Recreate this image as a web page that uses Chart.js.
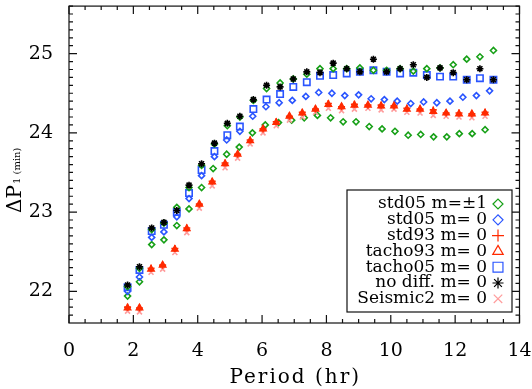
<!DOCTYPE html>
<html>
<head>
<meta charset="utf-8">
<script src="https://cdn.jsdelivr.net/npm/chart.js@4.4.0/dist/chart.umd.min.js"></script>
<style>
html,body{margin:0;padding:0;background:#fff;}
#wrap{width:532px;height:389px;}
</style>
</head>
<body>
<div id="wrap"><canvas id="c" width="532" height="389"></canvas></div>
<script>
const xTicks = [0,2,4,6,8,10,12,14];
const yTicks = [22,23,24,25];

// periods (hr), one list per column set
const periods = [1.82,2.19,2.57,2.95,3.35,3.73,4.12,4.52,4.92,5.31,5.73,6.14,6.56,6.97,7.39,7.80,8.21,8.63,9.04,9.46,9.87,10.29,10.70,11.12,11.53,11.94,12.36,12.77,13.19];
const periodsStd05 = [1.82,2.19,2.57,2.95,3.35,3.73,4.12,4.52,4.90,5.31,5.71,6.12,6.53,6.94,7.36,7.76,8.17,8.57,9.00,9.39,9.80,10.20,10.62,11.02,11.43,11.84,12.24,12.66,13.07];
const periodsLower = [1.82,2.19,2.57,2.95,3.35,3.73,4.12,4.48,4.90,5.29,5.70,6.10,6.51,6.92,7.31,7.72,8.13,8.52,8.92,9.33,9.73,10.13,10.54,10.93,11.33,11.74,12.13,12.53,12.93];
const periods93 = [1.82,2.19,2.55,2.91,3.29,3.66,4.05,4.45,4.85,5.24,5.63,6.03,6.44,6.85,7.25,7.66,8.06,8.47,8.87,9.29,9.70,10.10,10.50,10.91,11.32,11.72,12.12,12.52,12.93];

// Delta P1 (min)
const std05UpperBranch = [22.06,22.29,22.78,22.86,23.06,23.31,23.59,23.86,24.09,24.20,24.41,24.56,24.63,24.68,24.74,24.81,24.81,24.81,24.82,24.79,24.79,24.81,24.78,24.81,24.82,24.86,24.93,24.96,25.04];
const std05LowerBranch = [21.94,22.12,22.59,22.65,22.83,23.04,23.31,23.55,23.73,23.82,24.00,24.10,24.13,24.16,24.19,24.22,24.19,24.14,24.14,24.08,24.05,24.02,23.97,23.98,23.95,23.95,23.99,23.99,24.04];
const std05m0 = [22.00,22.18,22.68,22.75,22.94,23.17,23.46,23.70,23.91,24.02,24.21,24.33,24.38,24.41,24.46,24.51,24.50,24.47,24.48,24.43,24.42,24.40,24.37,24.39,24.38,24.40,24.45,24.47,24.53];
const std93 = [21.80,21.79,22.29,22.33,22.54,22.80,23.10,23.39,23.62,23.73,23.91,24.05,24.14,24.21,24.26,24.30,24.37,24.33,24.36,24.35,24.35,24.34,24.31,24.30,24.29,24.25,24.25,24.24,24.26];
const tacho93 = [21.79,21.79,22.28,22.33,22.53,22.79,23.10,23.38,23.61,23.73,23.90,24.05,24.13,24.21,24.25,24.30,24.36,24.33,24.35,24.35,24.34,24.34,24.30,24.30,24.27,24.25,24.24,24.24,24.25];
const tacho05 = [22.05,22.27,22.76,22.84,23.00,23.24,23.53,23.77,23.97,24.08,24.30,24.42,24.49,24.58,24.64,24.72,24.73,24.75,24.77,24.79,24.77,24.75,24.76,24.73,24.71,24.71,24.67,24.69,24.67];
const noDiff = [22.08,22.31,22.80,22.87,23.02,23.34,23.61,23.87,24.12,24.21,24.42,24.60,24.58,24.68,24.77,24.76,24.88,24.81,24.77,24.93,24.77,24.81,24.86,24.70,24.82,24.76,24.67,24.81,24.67];
const seismic2 = [21.75,21.74,22.24,22.28,22.49,22.74,23.05,23.33,23.56,23.68,23.86,24.00,24.09,24.16,24.20,24.26,24.31,24.28,24.30,24.31,24.29,24.30,24.26,24.25,24.22,24.21,24.20,24.19,24.21];

const GREEN = '#17a017', BLUE = '#2a55ff', RED = '#ff2a00', PINK = '#ff9c9c';
const FONT = "'DejaVu Serif', serif";

function pts(xs, ys){ return xs.map((p,i)=>({x:p, y:ys[i]})); }

const legendItems = [
    {label:'std05 m=\u00b11', style:'rectRot', color:GREEN, r:5},
    {label:'std05 m= 0', style:'rectRot', color:BLUE, r:5},
    {label:'std93 m= 0', style:'cross', color:RED, r:6},
    {label:'tacho93 m= 0', style:'triangle', color:RED, r:6},
    {label:'tacho05 m= 0', style:'rect', color:BLUE, r:7},
    {label:'no diff. m= 0', style:'star', color:'#000', r:5.5},
    {label:'Seismic2 m= 0', style:'crossRot', color:PINK, r:6}
];

const frame = {
    id:'frame',
    afterDraw(chart){
        const {ctx, chartArea:a, scales:{x, y}} = chart;
        ctx.save();
        ctx.strokeStyle = '#111';
        ctx.lineWidth = 1.2;
        ctx.strokeRect(a.left, a.top, a.right-a.left, a.bottom-a.top);
        ctx.beginPath();
        // minor ticks every 0.5 hr, major every 2
        for(let i=0;i<=28;i++){
            const px = x.getPixelForValue(i*0.5);
            const len = i%4===0 ? 8 : 4;
            ctx.moveTo(px, a.bottom); ctx.lineTo(px, a.bottom-len);
            ctx.moveTo(px, a.top); ctx.lineTo(px, a.top+len);
        }
        // minor ticks every 0.1 min, major every 1
        for(let i=217;i<=256;i++){
            const py = y.getPixelForValue(i/10);
            const len = i%10===0 ? 8 : 4;
            ctx.moveTo(a.left, py); ctx.lineTo(a.left+len, py);
            ctx.moveTo(a.right, py); ctx.lineTo(a.right-len, py);
        }
        ctx.stroke();

        // y title: Delta P with subscript
        ctx.fillStyle = '#000';
        ctx.save();
        ctx.translate(21, 213);
        ctx.rotate(-Math.PI/2);
        ctx.font = "20px " + FONT;
        ctx.textAlign = 'left';
        ctx.textBaseline = 'alphabetic';
        ctx.fillText('\u0394P', 0, 0);
        ctx.font = "10px " + FONT;
        ctx.fillText('1 (min)', 29, -1);
        ctx.restore();

        // x title
        ctx.font = "20px " + FONT;
        ctx.textAlign = 'center';
        ctx.textBaseline = 'alphabetic';
        if('letterSpacing' in ctx) ctx.letterSpacing = '2px';
        ctx.fillText('Period (hr)', (a.left+a.right)/2 + 1, 383);
        if('letterSpacing' in ctx) ctx.letterSpacing = '0px';

        // legend box
        const bx = 347, by = 190, bw = 165, bh = 122;
        ctx.fillStyle = '#fff';
        ctx.fillRect(bx, by, bw, bh);
        ctx.lineWidth = 1.2;
        ctx.strokeStyle = '#111';
        ctx.strokeRect(bx, by, bw, bh);
        ctx.font = "17px " + FONT;
        ctx.textAlign = 'right';
        ctx.textBaseline = 'middle';
        legendItems.forEach((it, i)=>{
            const cy = by + 14 + i*15.8;
            ctx.fillStyle = '#000';
            ctx.fillText(it.label, 487, cy);
            ctx.strokeStyle = it.color;
            ctx.fillStyle = 'rgba(0,0,0,0)';
            Chart.helpers.drawPoint(ctx, {pointStyle:it.style, radius:it.r, borderWidth:1.5, rotation:0}, 498, cy);
        });
        ctx.restore();
    }
};

function ds(label, data, style, color, r, fill){
    return {
        label, data,
        pointStyle: style,
        pointRadius: r,
        pointBorderWidth: 1.6,
        borderColor: color,
        backgroundColor: fill || 'rgba(0,0,0,0)',
        pointBackgroundColor: fill || 'rgba(0,0,0,0)'
    };
}

function noPad(s){ s.paddingTop = 0; s.paddingBottom = 0; s.paddingLeft = 0; s.paddingRight = 0; }

new Chart(document.getElementById('c'), {
    type:'scatter',
    data:{
        datasets:[
            ds('no diff. m= 0', pts(periods, noDiff), 'star', '#000', 3.5),
            ds('std93 m= 0', pts(periods93, std93), 'cross', RED, 3.5),
            ds('tacho93 m= 0', pts(periods93, tacho93), 'triangle', RED, 3.5, RED),
            ds('Seismic2 m= 0', pts(periods93, seismic2), 'crossRot', PINK, 3.5),
            ds('std05 m=\u00b11', pts(periods, std05UpperBranch), 'rectRot', GREEN, 3),
            ds('tacho05 m= 0', pts(periods, tacho05), 'rect', BLUE, 4.5),
            ds('std05 m= 0', pts(periodsStd05, std05m0), 'rectRot', BLUE, 3),
            ds('std05 m=\u00b11 b', pts(periodsLower, std05LowerBranch), 'rectRot', GREEN, 3)
        ]
    },
    options:{
        responsive:false,
        animation:false,
        devicePixelRatio:1,
        layout:{padding:{top:1, right:12.5, left:0, bottom:0}},
        plugins:{legend:{display:false}, tooltip:{enabled:false}},
        scales:{
            x:{
                type:'linear', min:0, max:14,
                afterBuildTicks: s => { s.ticks = xTicks.map(v=>({value:v})); },
                afterFit: s => { s.height = 66; noPad(s); },
                grid:{display:false}, border:{display:false},
                ticks:{font:{family:FONT, size:19}, color:'#000', padding:9, maxRotation:0, autoSkip:false}
            },
            y:{
                type:'linear', min:21.6, max:25.6,
                afterBuildTicks: s => { s.ticks = yTicks.map(v=>({value:v})); },
                afterFit: s => { s.width = 69; noPad(s); },
                grid:{display:false}, border:{display:false},
                ticks:{font:{family:FONT, size:19}, color:'#000', padding:8}
            }
        }
    },
    plugins:[frame]
});
</script>
</body>
</html>
